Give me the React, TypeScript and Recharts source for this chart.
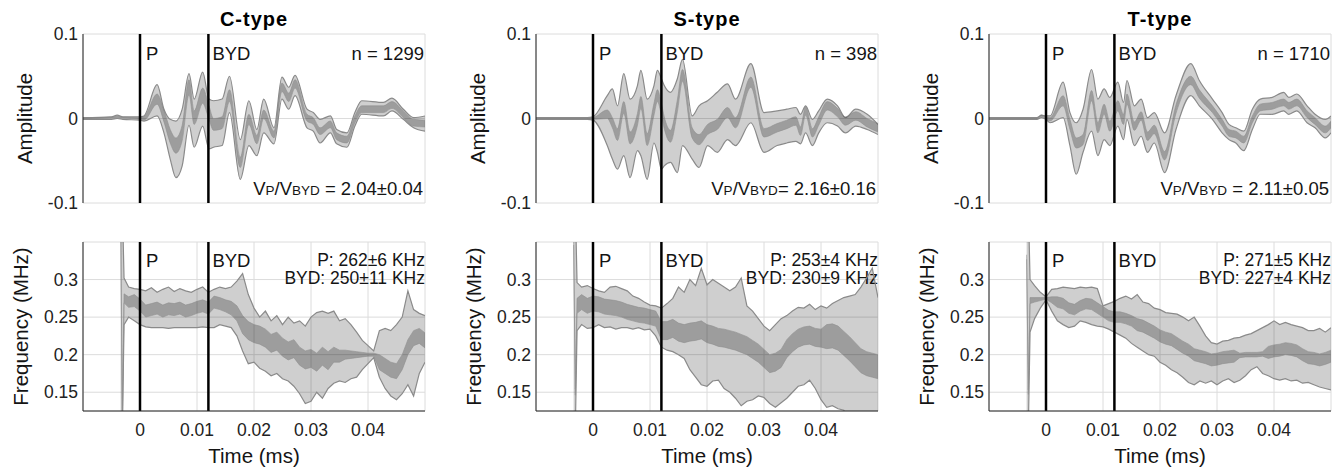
import React from 'react';
import { ComposedChart, Area, XAxis, YAxis, CartesianGrid, ReferenceLine, Label } from 'recharts';

// axes
const xTicks = [0, 0.01, 0.02, 0.03, 0.04];
const xTickLabels = ['0', '0.01', '0.02', '0.03', '0.04'];
const ampTicks = [-0.1, 0, 0.1];
const ampTickLabels = ['-0.1', '0', '0.1'];
const freqTicks = [0.15, 0.2, 0.25, 0.3];
const freqTickLabels = ['0.15', '0.2', '0.25', '0.3'];

// annotations
const types = ['C-type', 'S-type', 'T-type'];
const counts = ['n = 1299', 'n = 398', 'n = 1710'];
const ratios = [' = 2.04±0.04', '= 2.16±0.16', ' = 2.11±0.05'];
const pFreq = ['P: 262±6 KHz', 'P: 253±4 KHz', 'P: 271±5 KHz'];
const bydFreq = ['BYD: 250±11 KHz', 'BYD: 230±9 KHz', 'BYD: 227±4 KHz'];
const pTime = 0;
const bydTime = 0.012;

// amplitude, C-type
const cAmpT = [-0.01, -0.005, -0.004, -0.003, 0, 0.0007, 0.003, 0.0042, 0.0053, 0.0063, 0.0074, 0.0086, 0.0095, 0.011, 0.0121, 0.0129, 0.0144, 0.0157, 0.0176, 0.0191, 0.0205, 0.0217, 0.0235, 0.0249, 0.0261, 0.0272, 0.0293, 0.0304, 0.0316, 0.0334, 0.0345, 0.0363, 0.0377, 0.0389, 0.0427, 0.0442, 0.0462, 0.048, 0.05];
const cAmpHi = [0.001, 0.002, 0.004, 0.002, 0.002, 0.003, 0.04, 0.011, -0.001, -0.003, 0.011, 0.053, 0.023, 0.055, 0.023, 0.021, 0.023, 0.05, -0.025, 0.021, -0.013, 0.023, -0.011, 0.049, 0.037, 0.051, 0.011, 0.007, -0.001, 0.003, -0.013, -0.017, 0.007, 0.021, 0.019, 0.024, 0.011, 0.001, 0.003];
const cAmpMid = [0, 0.001, 0.002, 0.001, 0, 0, 0.023, 0.003, -0.021, -0.032, -0.017, 0.037, 0.001, 0.027, 0.007, -0.007, -0.005, 0.027, -0.052, -0.001, -0.025, 0.005, -0.019, 0.037, 0.025, 0.041, 0.001, -0.003, -0.015, -0.007, -0.021, -0.025, -0.001, 0.011, 0.011, 0.016, 0.005, -0.005, -0.006];
const cAmpLo = [-0.001, -0.001, 0, -0.001, -0.002, -0.003, 0.003, -0.017, -0.048, -0.07, -0.056, -0.008, -0.034, -0.009, -0.036, -0.034, -0.032, 0.007, -0.072, -0.032, -0.044, -0.017, -0.03, 0.023, 0.011, 0.027, -0.011, -0.015, -0.029, -0.017, -0.03, -0.034, -0.009, 0.005, 0.003, 0.009, -0.001, -0.011, -0.015];
const cAmpIn = [0.0005, 0.0005, 0.001, 0.0005, 0.001, 0.002, 0.006, 0.007, 0.008, 0.009, 0.009, 0.009, 0.008, 0.009, 0.008, 0.007, 0.007, 0.007, 0.006, 0.006, 0.005, 0.005, 0.004, 0.005, 0.005, 0.005, 0.004, 0.004, 0.004, 0.004, 0.004, 0.004, 0.004, 0.004, 0.004, 0.004, 0.004, 0.004, 0.004];

// amplitude, S-type
const sAmpT = [-0.01, -0.001, 0, 0.0025, 0.0034, 0.0043, 0.0054, 0.0065, 0.0078, 0.0084, 0.0095, 0.0107, 0.0113, 0.012, 0.0125, 0.0136, 0.0148, 0.0157, 0.0174, 0.0186, 0.0201, 0.0218, 0.0236, 0.025, 0.0277, 0.03, 0.0323, 0.034, 0.0356, 0.0364, 0.0373, 0.0385, 0.0396, 0.0411, 0.0429, 0.0443, 0.0461, 0.0481, 0.05];
const sAmpHi = [0.001, 0.001, 0.002, 0.027, 0.035, 0.015, 0.053, 0.023, 0.039, 0.057, 0.023, 0.039, 0.057, 0.047, 0.039, 0.031, 0.047, 0.07, 0.003, 0.015, 0.021, 0.031, 0.041, 0.023, 0.065, 0.007, 0.009, 0.011, 0.013, 0.005, 0.015, -0.001, 0.009, 0.023, 0.015, 0.001, 0.011, 0.005, -0.007];
const sAmpMid = [0, 0, 0, 0.005, -0.005, -0.019, 0.013, -0.023, -0.001, 0.019, -0.025, 0.011, 0.027, 0.011, -0.005, -0.021, 0.015, 0.051, -0.017, -0.025, -0.013, -0.007, 0.007, -0.005, 0.043, -0.017, -0.011, -0.007, -0.003, -0.015, 0.009, -0.017, -0.003, 0.015, 0.007, -0.003, 0.003, -0.005, -0.011];
const sAmpLo = [-0.001, -0.001, -0.002, -0.032, -0.048, -0.06, -0.044, -0.07, -0.038, -0.044, -0.072, -0.029, -0.04, -0.06, -0.056, -0.052, -0.064, -0.032, -0.048, -0.058, -0.032, -0.04, -0.025, -0.032, -0.005, -0.04, -0.032, -0.029, -0.027, -0.03, -0.017, -0.032, -0.017, -0.005, -0.009, -0.017, -0.009, -0.013, -0.019];
const sAmpIn = [0.0005, 0.0005, 0.001, 0.005, 0.006, 0.007, 0.007, 0.007, 0.007, 0.007, 0.007, 0.007, 0.007, 0.007, 0.007, 0.007, 0.007, 0.007, 0.006, 0.006, 0.006, 0.006, 0.006, 0.006, 0.006, 0.005, 0.005, 0.005, 0.005, 0.005, 0.005, 0.005, 0.005, 0.005, 0.005, 0.005, 0.005, 0.005, 0.005];

// amplitude, T-type
const tAmpT = [-0.01, -0.0016, -0.0008, 0, 0.0007, 0.003, 0.0042, 0.0053, 0.0065, 0.008, 0.0091, 0.0102, 0.0112, 0.0126, 0.0136, 0.0142, 0.0155, 0.0167, 0.0178, 0.019, 0.0208, 0.0228, 0.0254, 0.0269, 0.0292, 0.0309, 0.0321, 0.0333, 0.0347, 0.0362, 0.0376, 0.0397, 0.0417, 0.0426, 0.044, 0.0458, 0.0472, 0.049, 0.05];
const tAmpHi = [0.001, 0.001, 0.004, 0.003, 0.003, 0.043, 0.007, -0.005, 0.011, 0.058, 0.023, 0.035, 0.025, 0.043, 0.019, 0.045, 0.015, 0.023, 0.001, 0.007, -0.017, 0.027, 0.065, 0.045, 0.023, 0.007, -0.007, -0.011, -0.015, 0.011, 0.023, 0.025, 0.031, 0.025, 0.029, 0.015, 0.005, -0.001, 0.003];
const tAmpMid = [0, 0, 0.003, 0.001, -0.001, 0.021, -0.007, -0.029, -0.025, 0.027, -0.011, 0.011, -0.009, 0.015, -0.001, 0.023, -0.009, 0.003, -0.021, -0.013, -0.044, 0.011, 0.045, 0.029, 0.011, -0.005, -0.017, -0.019, -0.025, -0.001, 0.013, 0.015, 0.019, 0.015, 0.019, 0.005, -0.003, -0.013, -0.007];
const tAmpLo = [-0.001, -0.001, 0.001, -0.001, -0.005, 0.001, -0.032, -0.066, -0.04, -0.015, -0.044, -0.025, -0.032, -0.009, -0.025, -0.001, -0.032, -0.021, -0.04, -0.029, -0.064, -0.013, 0.027, 0.015, -0.001, -0.017, -0.025, -0.029, -0.038, -0.013, 0.005, 0.005, 0.009, 0.005, 0.009, -0.005, -0.011, -0.023, -0.017];
const tAmpIn = [0.0005, 0.0005, 0.001, 0.001, 0.002, 0.006, 0.006, 0.006, 0.006, 0.006, 0.006, 0.006, 0.006, 0.006, 0.006, 0.006, 0.005, 0.005, 0.005, 0.005, 0.005, 0.005, 0.005, 0.005, 0.004, 0.004, 0.004, 0.004, 0.004, 0.004, 0.004, 0.004, 0.004, 0.004, 0.004, 0.004, 0.004, 0.004, 0.004];

// frequency, shared time points
const freqT = [-0.0034, -0.0031, -0.0028, -0.002, -0.001, 0, 0.001, 0.002, 0.003, 0.004, 0.005, 0.006, 0.007, 0.008, 0.009, 0.01, 0.011, 0.012, 0.013, 0.014, 0.015, 0.016, 0.017, 0.018, 0.019, 0.02, 0.021, 0.022, 0.023, 0.024, 0.025, 0.026, 0.027, 0.028, 0.029, 0.03, 0.031, 0.032, 0.033, 0.034, 0.035, 0.036, 0.037, 0.038, 0.039, 0.04, 0.041, 0.042, 0.043, 0.044, 0.045, 0.046, 0.047, 0.048, 0.049, 0.05];

const cFrqHi = [0.4, 0.4, 0.302, 0.29, 0.288, 0.287, 0.285, 0.289, 0.283, 0.287, 0.29, 0.284, 0.288, 0.285, 0.283, 0.287, 0.29, 0.283, 0.287, 0.29, 0.288, 0.29, 0.298, 0.308, 0.28, 0.262, 0.25, 0.258, 0.245, 0.252, 0.24, 0.25, 0.242, 0.245, 0.238, 0.25, 0.256, 0.258, 0.255, 0.258, 0.245, 0.248, 0.24, 0.23, 0.219, 0.212, 0.205, 0.232, 0.235, 0.232, 0.24, 0.25, 0.285, 0.26, 0.255, 0.252];
const cFrqMid = [0.4, 0.1, 0.275, 0.27, 0.272, 0.266, 0.258, 0.26, 0.262, 0.258, 0.261, 0.26, 0.262, 0.258, 0.26, 0.263, 0.265, 0.262, 0.27, 0.268, 0.265, 0.262, 0.255, 0.24, 0.232, 0.228, 0.226, 0.222, 0.215, 0.218, 0.21, 0.205, 0.208, 0.198, 0.193, 0.195, 0.19, 0.198, 0.192, 0.2, 0.198, 0.2, 0.2, 0.2, 0.2, 0.2, 0.2, 0.19, 0.185, 0.18, 0.178, 0.19, 0.21, 0.222, 0.225, 0.219];
const cFrqLo = [0.1, 0.1, 0.24, 0.25, 0.245, 0.24, 0.237, 0.236, 0.236, 0.236, 0.235, 0.236, 0.236, 0.236, 0.236, 0.236, 0.237, 0.236, 0.236, 0.24, 0.238, 0.236, 0.225, 0.205, 0.188, 0.19, 0.182, 0.178, 0.172, 0.175, 0.168, 0.165, 0.158, 0.148, 0.135, 0.138, 0.15, 0.142, 0.155, 0.162, 0.165, 0.163, 0.168, 0.17, 0.18, 0.188, 0.196, 0.17, 0.155, 0.145, 0.14, 0.148, 0.16, 0.145, 0.175, 0.19];
const cFrqIn = [0.004, 0.004, 0.006, 0.007, 0.008, 0.008, 0.008, 0.008, 0.008, 0.008, 0.008, 0.008, 0.008, 0.008, 0.008, 0.008, 0.008, 0.008, 0.008, 0.008, 0.008, 0.009, 0.01, 0.012, 0.012, 0.012, 0.012, 0.012, 0.012, 0.012, 0.012, 0.012, 0.012, 0.012, 0.012, 0.012, 0.012, 0.012, 0.012, 0.01, 0.008, 0.006, 0.005, 0.004, 0.003, 0.002, 0.002, 0.01, 0.01, 0.01, 0.01, 0.01, 0.01, 0.01, 0.01, 0.01];

const sFrqHi = [0.4, 0.4, 0.296, 0.29, 0.292, 0.288, 0.285, 0.283, 0.29, 0.291, 0.288, 0.285, 0.278, 0.275, 0.27, 0.266, 0.265, 0.262, 0.268, 0.275, 0.29, 0.283, 0.3, 0.292, 0.315, 0.293, 0.3, 0.295, 0.29, 0.285, 0.29, 0.302, 0.265, 0.258, 0.248, 0.238, 0.232, 0.24, 0.248, 0.252, 0.258, 0.263, 0.262, 0.267, 0.26, 0.265, 0.262, 0.268, 0.272, 0.276, 0.278, 0.28, 0.29, 0.302, 0.315, 0.276];
const sFrqMid = [0.35, 0.15, 0.265, 0.27, 0.265, 0.268, 0.267, 0.264, 0.263, 0.262, 0.26, 0.257, 0.255, 0.253, 0.252, 0.25, 0.248, 0.232, 0.232, 0.235, 0.23, 0.228, 0.23, 0.231, 0.233, 0.228, 0.226, 0.223, 0.222, 0.22, 0.218, 0.215, 0.212, 0.207, 0.202, 0.195, 0.188, 0.19, 0.195, 0.208, 0.216, 0.222, 0.225, 0.226, 0.223, 0.222, 0.224, 0.225, 0.222, 0.215, 0.208, 0.2, 0.192, 0.188, 0.186, 0.184];
const sFrqLo = [0.1, 0.1, 0.232, 0.24, 0.235, 0.236, 0.24, 0.236, 0.237, 0.234, 0.236, 0.236, 0.234, 0.236, 0.233, 0.234, 0.225, 0.21, 0.206, 0.204, 0.2, 0.195, 0.18, 0.17, 0.16, 0.158, 0.165, 0.166, 0.155, 0.15, 0.142, 0.132, 0.138, 0.14, 0.145, 0.143, 0.135, 0.13, 0.136, 0.142, 0.15, 0.158, 0.16, 0.166, 0.155, 0.14, 0.13, 0.132, 0.128, 0.126, 0.11, 0.11, 0.11, 0.11, 0.11, 0.11];
const sFrqIn = [0.004, 0.004, 0.01, 0.01, 0.01, 0.01, 0.01, 0.01, 0.01, 0.01, 0.01, 0.01, 0.01, 0.01, 0.01, 0.01, 0.01, 0.012, 0.012, 0.012, 0.012, 0.012, 0.012, 0.012, 0.012, 0.012, 0.012, 0.012, 0.012, 0.012, 0.012, 0.012, 0.012, 0.012, 0.012, 0.012, 0.012, 0.012, 0.012, 0.012, 0.012, 0.012, 0.012, 0.012, 0.012, 0.012, 0.016, 0.016, 0.016, 0.016, 0.016, 0.016, 0.016, 0.016, 0.016, 0.016];

const tFrqHi = [0.4, 0.4, 0.3, 0.292, 0.283, 0.277, 0.287, 0.288, 0.29, 0.289, 0.288, 0.29, 0.289, 0.29, 0.288, 0.265, 0.268, 0.271, 0.275, 0.278, 0.274, 0.28, 0.27, 0.268, 0.262, 0.26, 0.256, 0.255, 0.254, 0.25, 0.245, 0.25, 0.238, 0.225, 0.216, 0.214, 0.218, 0.219, 0.222, 0.223, 0.226, 0.228, 0.232, 0.236, 0.24, 0.245, 0.24, 0.243, 0.24, 0.238, 0.236, 0.232, 0.232, 0.235, 0.23, 0.236];
const tFrqMid = [0.33, 0.15, 0.272, 0.273, 0.274, 0.275, 0.273, 0.27, 0.268, 0.262, 0.26, 0.265, 0.268, 0.267, 0.262, 0.257, 0.252, 0.25, 0.25, 0.248, 0.245, 0.24, 0.238, 0.234, 0.23, 0.225, 0.222, 0.22, 0.215, 0.21, 0.206, 0.2, 0.198, 0.196, 0.193, 0.194, 0.196, 0.197, 0.198, 0.199, 0.2, 0.2, 0.2, 0.201, 0.203, 0.205, 0.206, 0.208, 0.207, 0.205, 0.2, 0.196, 0.195, 0.193, 0.195, 0.198];
const tFrqLo = [0.1, 0.1, 0.23, 0.248, 0.262, 0.273, 0.258, 0.245, 0.24, 0.236, 0.238, 0.245, 0.243, 0.24, 0.238, 0.237, 0.234, 0.23, 0.226, 0.222, 0.215, 0.21, 0.205, 0.2, 0.198, 0.19, 0.186, 0.18, 0.176, 0.17, 0.163, 0.16, 0.165, 0.162, 0.165, 0.16, 0.165, 0.168, 0.163, 0.166, 0.172, 0.18, 0.184, 0.175, 0.172, 0.168, 0.166, 0.168, 0.165, 0.166, 0.162, 0.163, 0.16, 0.157, 0.155, 0.153];
const tFrqIn = [0.003, 0.003, 0.004, 0.003, 0.002, 0.001, 0.004, 0.007, 0.007, 0.007, 0.007, 0.007, 0.007, 0.007, 0.007, 0.007, 0.007, 0.007, 0.007, 0.007, 0.007, 0.008, 0.008, 0.008, 0.008, 0.008, 0.008, 0.008, 0.008, 0.008, 0.008, 0.008, 0.008, 0.008, 0.008, 0.008, 0.008, 0.008, 0.008, 0.003, 0.003, 0.003, 0.003, 0.003, 0.008, 0.008, 0.008, 0.008, 0.008, 0.008, 0.008, 0.008, 0.008, 0.008, 0.008, 0.008];

const bandRows = (t: number[], lo: number[], mid: number[], hi: number[], half: number[]) =>
  t.map((x, i) => ({ t: x, outer: [lo[i], hi[i]], inner: [mid[i] - half[i], mid[i] + half[i]] }));

const ampData = [
  bandRows(cAmpT, cAmpLo, cAmpMid, cAmpHi, cAmpIn),
  bandRows(sAmpT, sAmpLo, sAmpMid, sAmpHi, sAmpIn),
  bandRows(tAmpT, tAmpLo, tAmpMid, tAmpHi, tAmpIn),
];
const freqData = [
  bandRows(freqT, cFrqLo, cFrqMid, cFrqHi, cFrqIn),
  bandRows(freqT, sFrqLo, sFrqMid, sFrqHi, sFrqIn),
  bandRows(freqT, tFrqLo, tFrqMid, tFrqHi, tFrqIn),
];

const FONT = '"Liberation Sans", Arial, Helvetica, sans-serif';
const INK = '#141414';
const AXIS = '#222';
const EDGE = '#8a8a8a';
const colLeft = [0, 453, 906];
const Y_W = 83;
const PLOT_W = 342;
const PLOT_R = Y_W + PLOT_W;
const CHART_W = PLOT_R + 4;

function LineTag(props: any) {
  const { viewBox, text, shiftX, shiftY } = props;
  if (!viewBox) return null;
  return (
    <text x={viewBox.x + shiftX} y={viewBox.y + shiftY} fontSize={18.5} fill={INK} fontFamily={FONT}>
      {text}
    </text>
  );
}

function Panel({ col, top }: { col: number; top: boolean }) {
  const data = top ? ampData[col] : freqData[col];
  const yTicks = top ? ampTicks : freqTicks;
  const yLabels = top ? ampTickLabels : freqTickLabels;
  const tagY = top ? 26 : 25;
  const curve = top ? 'monotone' : 'linear';
  return (
    <div style={{ position: 'absolute', left: colLeft[col], top: top ? 0 : 220 }}>
      <ComposedChart
        width={CHART_W}
        height={top ? 220 : 250}
        data={data}
        margin={top ? { top: 34, right: 4, bottom: 17, left: 0 } : { top: 22, right: 4, bottom: 0, left: 0 }}
      >
        <CartesianGrid stroke="#dcdcdc" />
        <XAxis
          type="number"
          dataKey="t"
          domain={[-0.01, 0.05]}
          allowDataOverflow
          ticks={xTicks}
          height={top ? 0 : 59}
          tick={top ? false : { fontSize: 17.5, fill: AXIS, fontFamily: FONT }}
          tickFormatter={(v: number) => xTickLabels[xTicks.indexOf(v)]}
          tickLine={false}
          tickSize={0}
          tickMargin={13}
          axisLine={{ stroke: AXIS }}
        >
          {!top && <Label value="Time (ms)" position="insideBottom" offset={7} fontSize={20.5} fill={INK} fontFamily={FONT} />}
        </XAxis>
        <YAxis
          type="number"
          domain={top ? [-0.1, 0.1] : [0.125, 0.35]}
          allowDataOverflow
          ticks={yTicks}
          width={Y_W}
          tick={{ fontSize: 17.5, fill: AXIS, fontFamily: FONT }}
          tickFormatter={(v: number) => yLabels[yTicks.indexOf(v)]}
          tickLine={false}
          tickSize={0}
          tickMargin={5}
          axisLine={{ stroke: AXIS }}
        >
          <Label
            value={top ? 'Amplitude' : 'Frequency (MHz)'}
            angle={-90}
            position="insideLeft"
            offset={top ? 25 : 20.5}
            fontSize={20.5}
            fill={INK}
            fontFamily={FONT}
            style={{ textAnchor: 'middle' }}
          />
        </YAxis>
        <Area
          type={curve}
          dataKey="outer"
          stroke={EDGE}
          strokeWidth={1.2}
          fill="#000"
          fillOpacity={0.19}
          dot={false}
          activeDot={false}
          isAnimationActive={false}
        />
        <Area
          type={curve}
          dataKey="inner"
          stroke="#8f8f8f"
          strokeWidth={0.6}
          fill="#000"
          fillOpacity={0.24}
          dot={false}
          activeDot={false}
          isAnimationActive={false}
        />
        <ReferenceLine x={pTime} stroke="#000" strokeWidth={2.5} label={<LineTag text="P" shiftX={6} shiftY={tagY} />} />
        <ReferenceLine x={bydTime} stroke="#000" strokeWidth={2.5} label={<LineTag text="BYD" shiftX={4} shiftY={tagY} />} />
        {top && (
          <text x={Y_W + PLOT_W / 2} y={26} textAnchor="middle" fontSize={20} fontWeight="bold" letterSpacing={1} fill="#000" fontFamily={FONT}>
            {types[col]}
          </text>
        )}
        {top && (
          <text x={PLOT_R - 1} y={60} textAnchor="end" fontSize={18.5} fill={INK} fontFamily={FONT}>
            {counts[col]}
          </text>
        )}
        {top && (
          <text x={PLOT_R - 2} y={195} textAnchor="end" fontSize={18.5} fill={INK} fontFamily={FONT}>
            V<tspan fontSize={13.5}>P</tspan>/V<tspan fontSize={13.5}>BYD</tspan>{ratios[col]}
          </text>
        )}
        {!top && (
          <text x={PLOT_R} y={46} textAnchor="end" fontSize={17.5} fill={INK} fontFamily={FONT}>
            {pFreq[col]}
          </text>
        )}
        {!top && (
          <text x={PLOT_R} y={64} textAnchor="end" fontSize={17.5} fill={INK} fontFamily={FONT}>
            {bydFreq[col]}
          </text>
        )}
      </ComposedChart>
    </div>
  );
}

export default function App() {
  return (
    <div style={{ position: 'absolute', left: 0, top: 0, width: 1336, height: 470, background: '#fff', fontFamily: FONT }}>
      {[0, 1, 2].map((c) => (
        <React.Fragment key={c}>
          <Panel col={c} top />
          <Panel col={c} top={false} />
        </React.Fragment>
      ))}
    </div>
  );
}
